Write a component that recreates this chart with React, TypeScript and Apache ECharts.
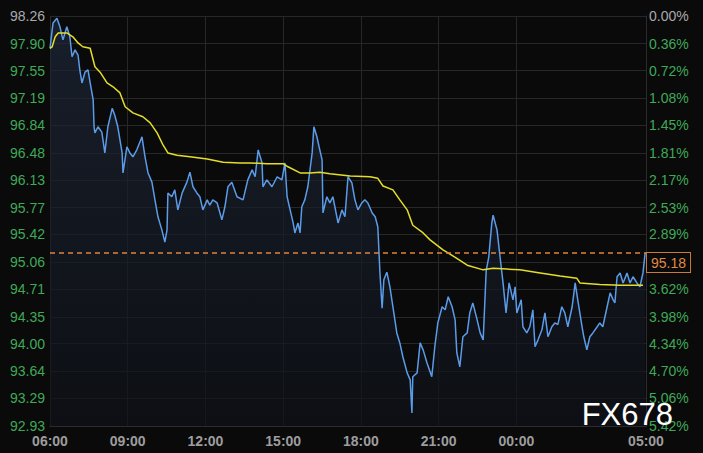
import React, { useEffect, useRef } from "react";
import * as echarts from "echarts";

// Minutes after 06:00
const priceTimes = [
  0, 7, 16, 23, 30, 39, 46, 51, 58, 65, 69, 74, 81, 88, 93, 100, 102, 104, 111, 120,
  127, 134, 144, 150, 157, 167, 169, 178, 185, 192, 201, 213, 220, 227, 236, 243, 250, 259, 266, 271,
  273, 282, 289, 296, 306, 317, 324, 331, 340, 347, 354, 364, 370, 377, 387, 398, 405, 412, 421, 433,
  447, 458, 468, 475, 482, 491, 493, 502, 514, 526, 537, 544, 549, 556, 563, 567, 574, 579, 583, 590,
  597, 607, 611, 618, 623, 630, 632, 641, 648, 655, 667, 676, 683, 690, 699, 706, 713, 722, 729, 736,
  746, 753, 759, 764, 769, 773, 780, 787, 794, 803, 810, 817, 827, 834, 838, 840, 850, 857, 864, 873,
  884, 891, 898, 908, 915, 922, 931, 938, 942, 949, 956, 966, 972, 979, 989, 996, 1003, 1010, 1016, 1023,
  1026, 1035, 1042, 1049, 1056, 1063, 1072, 1077, 1081, 1091, 1095, 1104, 1111, 1118, 1123, 1130, 1139, 1146, 1153, 1162,
  1169, 1176, 1185, 1192, 1199, 1209, 1216, 1222, 1232, 1236, 1243, 1250, 1257, 1267, 1273, 1280, 1290, 1297, 1304, 1308,
  1313, 1320, 1327, 1336, 1343, 1350, 1359, 1366, 1373, 1378,
];
const priceValues = [
  97.84, 98.17, 98.23, 98.12, 97.95, 98.12, 97.99, 97.73, 97.82, 97.75, 97.56, 97.39, 97.53, 97.56, 97.39, 97.17, 96.82, 96.74, 96.82, 96.75,
  96.48, 96.82, 97.06, 96.97, 96.82, 96.48, 96.22, 96.56, 96.48, 96.43, 96.52, 96.69, 96.43, 96.22, 96.10, 95.87, 95.65, 95.48, 95.32, 95.48,
  95.96, 95.91, 96.00, 95.74, 95.96, 96.10, 96.23, 96.04, 95.96, 95.91, 95.74, 95.87, 95.80, 95.87, 95.83, 95.61, 95.78, 96.04, 96.10, 95.91,
  95.87, 96.13, 96.26, 96.17, 96.52, 96.35, 96.04, 96.13, 96.04, 96.17, 96.13, 96.35, 95.91, 95.74, 95.57, 95.44, 95.57, 95.44, 95.78, 95.87,
  96.04, 96.48, 96.82, 96.69, 96.56, 96.39, 95.70, 95.91, 95.83, 95.91, 95.57, 95.74, 95.65, 96.17, 96.09, 95.87, 95.74, 95.83, 95.87, 95.83,
  95.70, 95.65, 95.52, 94.92, 94.46, 94.83, 94.93, 94.74, 94.48, 94.14, 94.01, 93.83, 93.62, 93.53, 93.10, 93.57, 93.62, 94.01, 93.92, 93.75,
  93.57, 93.96, 94.27, 94.48, 94.44, 94.61, 94.48, 94.31, 93.88, 93.70, 94.09, 94.14, 94.40, 94.53, 94.31, 94.14, 94.05, 94.95, 95.13, 95.57,
  95.67, 95.48, 95.13, 94.79, 94.40, 94.79, 94.57, 94.74, 94.40, 94.57, 94.22, 94.14, 94.22, 94.44, 93.96, 94.05, 94.18, 94.40, 94.09, 94.22,
  94.27, 94.25, 94.48, 94.40, 94.22, 94.48, 94.79, 94.57, 94.22, 94.09, 93.92, 94.09, 94.14, 94.22, 94.27, 94.22, 94.48, 94.66, 94.57, 94.53,
  94.87, 94.92, 94.79, 94.92, 94.79, 94.87, 94.79, 94.74, 94.92, 95.18,
];

const avgTimes = [
  0, 5, 12, 19, 39, 53, 65, 76, 93, 104, 116, 132, 146, 162, 174, 192, 215, 232, 248, 262,
  273, 294, 324, 364, 401, 440, 463, 502, 540, 551, 579, 602, 625, 648, 695, 741, 759, 771, 794, 810,
  827, 840, 864, 880, 910, 942, 966, 1003, 1026, 1058, 1088, 1135, 1181, 1220, 1227, 1273, 1320, 1373,
];
const avgValues = [
  97.84, 97.86, 97.99, 98.04, 98.04, 97.99, 97.91, 97.86, 97.84, 97.60, 97.53, 97.39, 97.34, 97.26, 97.08, 97.00, 96.95, 96.87, 96.74, 96.58,
  96.48, 96.45, 96.43, 96.40, 96.36, 96.35, 96.35, 96.34, 96.34, 96.30, 96.22, 96.22, 96.23, 96.21, 96.18, 96.17, 96.15, 96.05, 96.00, 95.87,
  95.74, 95.54, 95.44, 95.35, 95.22, 95.11, 95.02, 94.96, 94.98, 94.97, 94.96, 94.92, 94.88, 94.85, 94.79, 94.77, 94.76, 94.76,
];

const lastPrice = 95.18;
const priceTickLabels = [
  "98.26", "97.90", "97.55", "97.19", "96.84", "96.48", "96.13", "95.77",
  "95.42", "95.06", "94.71", "94.35", "94.00", "93.64", "93.29", "92.93",
];
const pctTickLabels = [
  "0.00%", "0.36%", "0.72%", "1.08%", "1.45%", "1.81%", "2.17%", "2.53%",
  "2.89%", "3.25%", "3.62%", "3.98%", "4.34%", "4.70%", "5.06%", "5.42%",
];
const timeTickMinutes = [0, 180, 360, 540, 720, 900, 1080, 1380];

export default function App() {
  const ref = useRef<HTMLDivElement>(null);
  useEffect(() => {
    if (!ref.current) return;
    const chart = echarts.init(ref.current, null, { renderer: "svg" });
    const tickVals = priceTickLabels.map(Number);
    const yMin = Math.min(...tickVals);
    const yMax = Math.max(...tickVals);
    const font = "'Liberation Sans', Arial, sans-serif";
    const fmtTime = (m: number) => {
      const t = (360 + Math.round(m)) % 1440;
      const h = Math.floor(t / 60);
      const mm = t % 60;
      return String(h).padStart(2, "0") + ":" + String(mm).padStart(2, "0");
    };
    const labelColor = (v: any) => (Number(v) >= yMax - 1e-6 ? "#a9a9a9" : "#3fa957");
    const gridLine = { show: true, lineStyle: { color: "#272727", width: 1 } };
    const dashStyle = { color: "#e0843a", type: [5, 4], width: 1.5, opacity: 1 };
    chart.setOption({
      animation: false,
      backgroundColor: "#0a0a0b",
      grid: { left: 50, right: 57, top: 16, bottom: 27, containLabel: false },
      xAxis: {
        type: "value",
        min: 0,
        max: timeTickMinutes[timeTickMinutes.length - 1],
        axisLine: { show: true, lineStyle: { color: "#2c2c2c" } },
        axisTick: { show: false, customValues: timeTickMinutes },
        splitLine: gridLine,
        axisLabel: {
          customValues: timeTickMinutes,
          formatter: (v: number) => fmtTime(v),
          color: "#9d9d9d",
          fontSize: 14,
          fontWeight: "bold",
          fontFamily: font,
          margin: 8,
        },
      },
      yAxis: [
        {
          type: "value",
          min: yMin,
          max: yMax,
          position: "left",
          axisLine: { show: true, lineStyle: { color: "#2c2c2c" } },
          axisTick: { show: false, customValues: tickVals },
          splitLine: gridLine,
          axisLabel: {
            customValues: tickVals,
            formatter: (v: number) => v.toFixed(2),
            color: labelColor,
            fontSize: 14,
            fontFamily: font,
            margin: 5,
          },
        },
        {
          type: "value",
          min: yMin,
          max: yMax,
          position: "right",
          axisLine: { show: true, lineStyle: { color: "#2c2c2c" } },
          axisTick: { show: false, customValues: tickVals },
          splitLine: { show: false },
          axisLabel: {
            customValues: tickVals,
            formatter: (v: number) => {
              const i = tickVals.findIndex((t) => Math.abs(t - v) < 1e-6);
              return i >= 0 ? pctTickLabels[i] : "";
            },
            color: labelColor,
            fontSize: 14,
            fontFamily: font,
            margin: 3,
          },
        },
      ],
      series: [
        {
          type: "line",
          name: "price",
          data: priceTimes.map((t, i) => [t, priceValues[i]]),
          showSymbol: false,
          symbol: "none",
          lineStyle: { color: "#5b9be8", width: 1.5 },
          areaStyle: {
            color: new echarts.graphic.LinearGradient(0, 0, 0, 1, [
              { offset: 0, color: "#1e2738" },
              { offset: 1, color: "#0e1117" },
            ]),
          },
          markLine: {
            silent: true,
            symbol: "none",
            lineStyle: dashStyle,
            emphasis: { disabled: true },
            label: {
              show: true,
              position: "end",
              formatter: () => lastPrice.toFixed(2),
              color: "#e08a45",
              fontSize: 14,
              fontFamily: font,
              backgroundColor: "#0a0a0b",
              borderColor: "#c97a3a",
              borderWidth: 1,
              padding: [3, 4, 2, 4],
              verticalAlign: "top",
              align: "left",
              distance: 1,
            },
            data: [{ yAxis: lastPrice, lineStyle: dashStyle }],
          },
          z: 2,
        },
        {
          type: "line",
          name: "avg",
          data: avgTimes.map((t, i) => [t, avgValues[i]]),
          showSymbol: false,
          symbol: "none",
          lineStyle: { color: "#e4de2a", width: 1.5 },
          z: 3,
        },
      ],
      graphic: [
        {
          type: "text",
          right: 30,
          bottom: 23,
          z: 100,
          style: {
            text: "FX678",
            fill: "#ffffff",
            font: "31px 'Liberation Sans', Arial, sans-serif",
          },
        },
      ],
    });
    return () => chart.dispose();
  }, []);
  return (
    <div
      ref={ref}
      style={{ position: "fixed", left: 0, top: 0, width: 703, height: 453, background: "#0a0a0b" }}
    />
  );
}
